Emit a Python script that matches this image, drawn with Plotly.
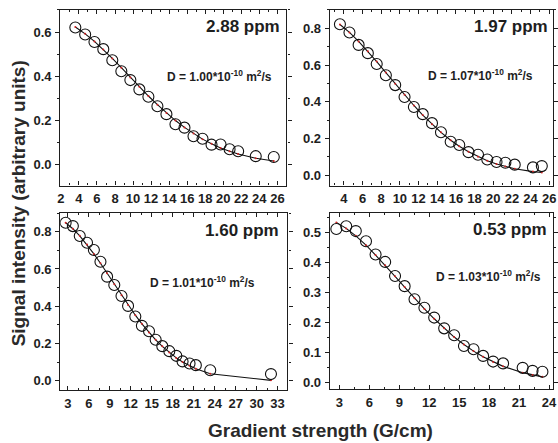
import plotly.graph_objects as go

W, H = 558, 443

# ---- measured data: gradient strength (G/cm) vs. signal intensity ----
g_288 = [3.6, 4.69, 5.72, 6.7, 7.7, 8.7, 9.7, 10.7, 11.7, 12.7, 13.7, 14.7,
         15.7, 16.7, 17.7, 18.7, 19.7, 20.7, 21.65, 23.6, 25.6]
s_288 = [0.621, 0.589, 0.555, 0.523, 0.473, 0.423, 0.383, 0.341, 0.308, 0.265,
         0.229, 0.183, 0.168, 0.129, 0.118, 0.091, 0.092, 0.070, 0.061, 0.039, 0.035]
fit_288 = [0.623, 0.592, 0.558, 0.521, 0.481, 0.439, 0.395, 0.353, 0.311, 0.272,
           0.234, 0.200, 0.169, 0.141, 0.116, 0.095, 0.076, 0.061, 0.0485, 0.0296, 0.017]

g_197 = [3.58, 4.6, 5.58, 6.57, 7.52, 8.5, 9.5, 10.5, 11.5, 12.45, 13.44, 14.4,
         15.44, 16.36, 17.35, 18.37, 19.36, 20.35, 21.3, 22.3, 24.25, 25.2]
s_197 = [0.822, 0.777, 0.710, 0.665, 0.606, 0.545, 0.491, 0.426, 0.372, 0.333,
         0.284, 0.234, 0.183, 0.165, 0.126, 0.112, 0.086, 0.072, 0.068, 0.058, 0.043, 0.050]
fit_197 = [0.821, 0.778, 0.729, 0.675, 0.619, 0.559, 0.498, 0.438, 0.380, 0.328,
           0.278, 0.234, 0.191, 0.158, 0.128, 0.101, 0.079, 0.061, 0.048, 0.036, 0.020, 0.015]

g_160 = [2.67, 3.7, 4.69, 5.73, 6.71, 7.65, 8.6, 9.63, 10.66, 11.6, 12.64, 13.58,
         14.6, 15.55, 16.5, 17.5, 18.5, 19.4, 20.4, 21.3, 23.36, 32.05]
s_160 = [0.848, 0.830, 0.777, 0.741, 0.702, 0.639, 0.559, 0.514, 0.455, 0.402,
         0.345, 0.295, 0.266, 0.220, 0.186, 0.159, 0.134, 0.104, 0.093, 0.084, 0.057, 0.036]
fit_160 = [0.848, 0.816, 0.778, 0.731, 0.681, 0.631, 0.577, 0.518, 0.459, 0.407,
           0.352, 0.306, 0.259, 0.220, 0.185, 0.152, 0.123, 0.101, 0.081, 0.065, 0.038, 0.0024]

g_053 = [2.7, 3.69, 4.65, 5.67, 6.63, 7.59, 8.58, 9.54, 10.53, 11.52, 12.5, 13.5,
         14.5, 15.48, 16.44, 17.4, 18.4, 19.4, 21.36, 22.35, 23.34]
s_053 = [0.513, 0.522, 0.506, 0.472, 0.428, 0.403, 0.356, 0.322, 0.278, 0.250,
         0.217, 0.181, 0.158, 0.122, 0.111, 0.089, 0.070, 0.064, 0.049, 0.039, 0.036]
fit_053 = [0.535, 0.515, 0.490, 0.459, 0.426, 0.392, 0.355, 0.319, 0.282, 0.246,
           0.213, 0.181, 0.152, 0.127, 0.105, 0.086, 0.069, 0.054, 0.033, 0.025, 0.019]

peaks = ["2.88 ppm", "1.97 ppm", "1.60 ppm", "0.53 ppm"]
diffusion = ["1.00", "1.07", "1.01", "1.03"]

FONT = "Arial, Liberation Sans, sans-serif"
INK = "#1e1e1e"


def px(x):
    return x / W


def py(y):
    return 1 - y / H


# panel frames in pixels: (left, right, top, bottom)
frames = [(58, 287, 10, 186), (331, 557, 10, 186),
          (58, 288, 213, 391), (331, 557, 213, 390)]
xranges = [[1.93, 27.0], [2.5, 26.4], [1.9, 34.4], [2.05, 24.4]]
yranges = [[-0.094, 0.70], [-0.056, 0.90], [-0.05, 0.903], [-0.022, 0.568]]
xticks = [(2, 1), (2, 1), (3, 1.5), (3, 1.5)]
yticks = [(0.2, 0.1), (0.2, 0.1), (0.2, 0.1), (0.1, 0.05)]

series = [(g_288, s_288, fit_288), (g_197, s_197, fit_197),
          (g_160, s_160, fit_160), (g_053, s_053, fit_053)]

fig = go.Figure()
layout = {}
for i, ((g, s, f), fr) in enumerate(zip(series, frames)):
    n = "" if i == 0 else str(i + 1)
    xa, ya = "x" + n, "y" + n
    fig.add_trace(go.Scatter(x=g, y=f, mode="lines+markers", xaxis=xa, yaxis=ya,
                             line=dict(color="#111111", width=1.1),
                             marker=dict(size=2, color="#d02020"),
                             showlegend=False, hoverinfo="skip"))
    fig.add_trace(go.Scatter(x=g, y=s, mode="markers", xaxis=xa, yaxis=ya,
                             marker=dict(symbol="circle-open", size=11,
                                         color="#111111", line=dict(width=1.1)),
                             showlegend=False))
    l, r, t, b = fr
    tick_font = dict(family=FONT, size=13, color=INK, weight="bold")
    layout["xaxis" + n] = dict(
        domain=[px(l), px(r)], anchor=ya, range=xranges[i],
        dtick=xticks[i][0], tick0=0, tickangle=0, ticks="inside", ticklen=4,
        tickwidth=1, tickcolor=INK, mirror="ticks", showline=True,
        linecolor=INK, linewidth=1.3, showgrid=False, zeroline=False,
        tickfont=tick_font, ticklabelstandoff=1, ticklabeloverflow="allow",
        minor=dict(dtick=xticks[i][1], tick0=0, ticks="inside", ticklen=2,
                   tickcolor=INK, tickwidth=1))
    layout["yaxis" + n] = dict(
        domain=[py(b), py(t)], anchor=xa, range=yranges[i],
        dtick=yticks[i][0], tick0=0, tickformat=".1f", ticks="outside",
        ticklen=4, tickwidth=1, tickcolor=INK, mirror="ticks", showline=True,
        linecolor=INK, linewidth=1.3, showgrid=False, zeroline=False,
        tickfont=tick_font, ticklabelstandoff=1, ticklabeloverflow="allow",
        minor=dict(dtick=yticks[i][1], tick0=0, ticks="outside", ticklen=2,
                   tickcolor=INK, tickwidth=1))

annotations = []
ppm_pos = [(283, 27), (554, 27), (282, 231), (553, 230)]
d_pos = [(219, 76), (484, 75), (202, 283), (492, 277)]
for i in range(4):
    x, y = ppm_pos[i]
    annotations.append(dict(
        x=px(x), y=py(y), xref="paper", yref="paper", xanchor="right",
        yanchor="middle", showarrow=False, text=peaks[i],
        font=dict(family=FONT, size=17, color=INK, weight="bold")))
    x, y = d_pos[i]
    annotations.append(dict(
        x=px(x), y=py(y), xref="paper", yref="paper", xanchor="center",
        yanchor="middle", showarrow=False,
        text="D = " + diffusion[i] + "*10<sup>-10</sup> m<sup>2</sup>/s",
        font=dict(family=FONT, size=12, color=INK, weight="bold")))

annotations.append(dict(
    x=px(16), y=py(204), xref="paper", yref="paper", textangle=-90,
    xanchor="center", yanchor="middle", showarrow=False,
    text="Signal intensity (arbitrary units)",
    font=dict(family=FONT, size=19, color="#2a2a2a", weight="bold")))
annotations.append(dict(
    x=px(322), y=py(431), xref="paper", yref="paper", xanchor="center",
    yanchor="middle", showarrow=False, text="Gradient strength (G/cm)",
    font=dict(family=FONT, size=19, color="#2a2a2a", weight="bold")))

fig.update_layout(
    width=W, height=H, margin=dict(l=0, r=0, t=0, b=0),
    paper_bgcolor="white", plot_bgcolor="white",
    annotations=annotations, **layout)

fig.write_html("out.html")
